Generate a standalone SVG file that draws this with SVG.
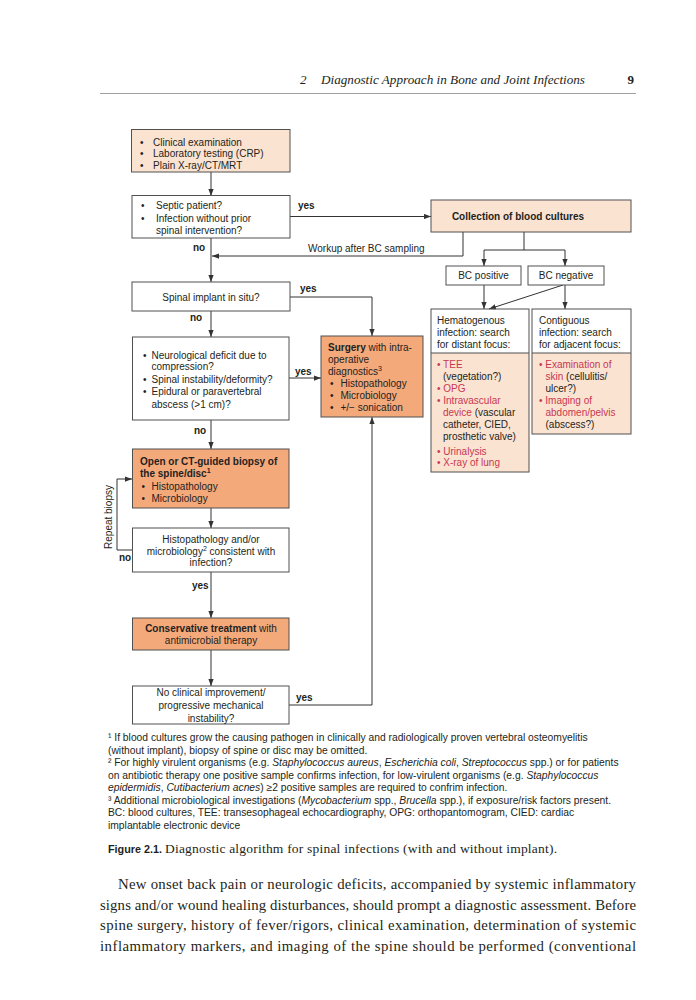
<svg xmlns="http://www.w3.org/2000/svg" width="696" height="1000" viewBox="0 0 696 1000">
<defs>
<style>
.box{stroke:#505050;stroke-width:1}
.lt{fill:#fbe3d2}
.dk{fill:#f4a97b}
.wh{fill:#ffffff}
.t{font-family:"Liberation Sans",Arial,sans-serif;font-size:10px;fill:#231f20}
.b{font-weight:bold}
.r{fill:#c8374f}
.c{text-anchor:middle}
.ln{stroke:#333;stroke-width:1;fill:none}
.fn{font-family:"Liberation Sans",Arial,sans-serif;font-size:10.3px;fill:#231f20}
.i{font-style:italic}
.serif{font-family:"Liberation Serif","Times New Roman",serif;fill:#231f20}
</style>
<marker id="ah" viewBox="0 0 8 6" refX="8" refY="3" markerWidth="7" markerHeight="5.5" markerUnits="userSpaceOnUse" orient="auto">
<path d="M0,0 L8,3 L0,6 z" fill="#333"/>
</marker>
</defs>
<rect width="696" height="1000" fill="#ffffff"/>

<!-- running header -->
<g id="header">
<text class="serif i" x="300" y="84" font-size="13">2</text>
<text class="serif i" x="321" y="84" font-size="13" textLength="264" lengthAdjust="spacingAndGlyphs">Diagnostic Approach in Bone and Joint Infections</text>
<text class="serif b" x="634" y="84" font-size="13" text-anchor="end">9</text>
<line x1="100" y1="93.5" x2="636" y2="93.5" stroke="#888" stroke-width="0.8"/>
</g>

<!-- connectors -->
<g id="connectors">
<line class="ln" x1="211" y1="172" x2="211" y2="196" marker-end="url(#ah)"/>
<line class="ln" x1="290" y1="216.5" x2="431" y2="216.5" marker-end="url(#ah)"/>
<polyline class="ln" points="463,232 463,256 212,256" marker-end="url(#ah)"/>
<line class="ln" x1="211" y1="238" x2="211" y2="282" marker-end="url(#ah)"/>
<polyline class="ln" points="524,232 524,250"/>
<line class="ln" x1="484" y1="250" x2="565" y2="250"/>
<line class="ln" x1="484" y1="250" x2="484" y2="266" marker-end="url(#ah)"/>
<line class="ln" x1="565" y1="250" x2="565" y2="266" marker-end="url(#ah)"/>
<line class="ln" x1="484" y1="285" x2="484" y2="309" marker-end="url(#ah)"/>
<line class="ln" x1="565" y1="285" x2="565" y2="309" marker-end="url(#ah)"/>
<line class="ln" x1="563" y1="285" x2="489" y2="309" marker-end="url(#ah)"/>
<polyline class="ln" points="290,297 372,297 372,336" marker-end="url(#ah)"/>
<line class="ln" x1="211" y1="311" x2="211" y2="337" marker-end="url(#ah)"/>
<line class="ln" x1="289" y1="378" x2="321" y2="378" marker-end="url(#ah)"/>
<line class="ln" x1="211" y1="420" x2="211" y2="449" marker-end="url(#ah)"/>
<line class="ln" x1="211" y1="508" x2="211" y2="528" marker-end="url(#ah)"/>
<polyline class="ln" points="132,550 117,550 117,479 132,479" marker-end="url(#ah)"/>
<line class="ln" x1="211" y1="572" x2="211" y2="618" marker-end="url(#ah)"/>
<line class="ln" x1="211" y1="650" x2="211" y2="686" marker-end="url(#ah)"/>
<polyline class="ln" points="289,705 372,705 372,417" marker-end="url(#ah)"/>
<text class="t b" x="298" y="209">yes</text>
<text class="t b" x="193" y="251">no</text>
<text class="t" x="308" y="252">Workup after BC sampling</text>
<text class="t b" x="300" y="291.5">yes</text>
<text class="t b" x="190" y="320.5">no</text>
<text class="t b" x="295" y="375">yes</text>
<text class="t b" x="194" y="433.5">no</text>
<text class="t b" x="119" y="561">no</text>
<text class="t c" transform="translate(111.5,517) rotate(-90)">Repeat biopsy</text>
<text class="t b" x="192" y="588.5">yes</text>
<text class="t b" x="296" y="700.5">yes</text>
</g>

<g id="initial">
<rect class="box lt" x="131.5" y="129.5" width="158.5" height="42.5"/>
<text class="t" x="140" y="145.5">•</text><text class="t" x="153" y="145.5">Clinical examination</text>
<text class="t" x="140" y="157">•</text><text class="t" x="153" y="157">Laboratory testing (CRP)</text>
<text class="t" x="140" y="168.5">•</text><text class="t" x="153" y="168.5">Plain X-ray/CT/MRT</text>
</g>

<g id="septic">
<rect class="box wh" x="132" y="195.5" width="158" height="42.5"/>
<text class="t" x="141" y="208.5">•</text><text class="t" x="156" y="208.5">Septic patient?</text>
<text class="t" x="141" y="221.5">•</text><text class="t" x="156" y="221.5">Infection without prior</text>
<text class="t" x="156" y="233.5">spinal intervention?</text>
</g>

<g id="blood-cultures">
<rect class="box lt" x="431" y="200" width="200" height="32"/>
<text class="t b c" x="518" y="219.5">Collection of blood cultures</text>
</g>

<g id="bc-positive">
<rect class="box wh" x="446" y="266" width="75" height="19"/>
<text class="t c" x="483.5" y="279">BC positive</text>
</g>

<g id="bc-negative">
<rect class="box wh" x="528" y="266" width="76" height="19"/>
<text class="t c" x="566" y="279">BC negative</text>
</g>

<g id="hematogenous">
<rect class="lt" x="431" y="353" width="98" height="119"/>
<rect x="431" y="309" width="98" height="163" fill="none" class="box"/>
<line x1="431" y1="353" x2="529" y2="353" stroke="#505050" stroke-width="1"/>
<text class="t" x="437" y="323.5">Hematogenous</text>
<text class="t" x="437" y="335.5">infection: search</text>
<text class="t" x="437" y="347.5">for distant focus:</text>
<text class="t r" x="437" y="367.5">• TEE</text>
<text class="t" x="443" y="379.5">(vegetation?)</text>
<text class="t r" x="437" y="391.5">• OPG</text>
<text class="t r" x="437" y="404">• Intravascular</text>
<text class="t" x="443" y="416"><tspan class="r">device</tspan> (vascular</text>
<text class="t" x="443" y="428">catheter, CIED,</text>
<text class="t" x="443" y="440">prosthetic valve)</text>
<text class="t r" x="437" y="454.5">• Urinalysis</text>
<text class="t r" x="437" y="466">•  X-ray of lung</text>
</g>

<g id="contiguous">
<rect class="lt" x="532" y="353" width="99" height="81"/>
<rect x="532" y="309" width="99" height="125" fill="none" class="box"/>
<line x1="532" y1="353" x2="631" y2="353" stroke="#505050" stroke-width="1"/>
<text class="t" x="539" y="323.5">Contiguous</text>
<text class="t" x="539" y="335.5">infection: search</text>
<text class="t" x="539" y="347.5">for adjacent focus:</text>
<text class="t r" x="539" y="367.5">• Examination of</text>
<text class="t" x="545.5" y="379.5"><tspan class="r">skin</tspan> (cellulitis/</text>
<text class="t" x="545.5" y="391.5">ulcer?)</text>
<text class="t r" x="539" y="404">• Imaging of</text>
<text class="t r" x="545.5" y="416">abdomen/pelvis</text>
<text class="t" x="545.5" y="428">(abscess?)</text>
</g>

<g id="spinal-implant">
<rect class="box wh" x="132" y="282" width="158" height="29"/>
<text class="t c" x="211" y="300.5">Spinal implant in situ?</text>
</g>

<g id="neuro">
<rect class="box wh" x="132.5" y="337" width="156.5" height="83"/>
<text class="t" x="143" y="358.5">•</text><text class="t" x="151.5" y="358.5">Neurological deficit due to</text>
<text class="t" x="151.5" y="370">compression?</text>
<text class="t" x="143" y="382.5">•</text><text class="t" x="151.5" y="382.5">Spinal instability/deformity?</text>
<text class="t" x="143" y="395">•</text><text class="t" x="151.5" y="395">Epidural or paravertebral</text>
<text class="t" x="151.5" y="407.5">abscess (&gt;1 cm)?</text>
</g>

<g id="surgery">
<rect class="box dk" x="321" y="336" width="102" height="81"/>
<text class="t" x="328" y="350.5"><tspan class="b">Surgery</tspan> with intra-</text>
<text class="t" x="328" y="362.5">operative</text>
<text class="t" x="328" y="374.5">diagnostics<tspan font-size="7" dy="-4">3</tspan></text>
<text class="t" x="330" y="386.5">•</text><text class="t" x="340.5" y="386.5">Histopathology</text>
<text class="t" x="330" y="399">•</text><text class="t" x="340.5" y="399">Microbiology</text>
<text class="t" x="330" y="411">•</text><text class="t" x="340.5" y="411">+/− sonication</text>
</g>

<g id="biopsy">
<rect class="box dk" x="132.5" y="449" width="156.5" height="59"/>
<text class="t b" x="140" y="465">Open or CT-guided biopsy of</text>
<text class="t b" x="140" y="477">the spine/disc<tspan font-size="7" dy="-4">1</tspan></text>
<text class="t" x="141.5" y="489.5">•</text><text class="t" x="151.5" y="489.5">Histopathology</text>
<text class="t" x="141.5" y="501.5">•</text><text class="t" x="151.5" y="501.5">Microbiology</text>
</g>

<g id="histo-result">
<rect class="box wh" x="132.5" y="528" width="156.5" height="44"/>
<text class="t c" x="211" y="542.5">Histopathology and/or</text>
<text class="t c" x="211" y="554.5">microbiology<tspan font-size="7" dy="-4">2</tspan><tspan dy="4"> consistent with</tspan></text>
<text class="t c" x="211" y="566">infection?</text>
</g>

<g id="conservative">
<rect class="box dk" x="132.5" y="618" width="156.5" height="32"/>
<text class="t c" x="211" y="631.5"><tspan class="b">Conservative treatment</tspan> with</text>
<text class="t c" x="211" y="644">antimicrobial therapy</text>
</g>

<g id="no-improvement">
<rect class="box wh" x="132.5" y="686" width="156.5" height="38"/>
<text class="t c" x="211" y="696">No clinical improvement/</text>
<text class="t c" x="211" y="709">progressive mechanical</text>
<text class="t c" x="211" y="721.5">instability?</text>
</g>

<g id="footnotes">
<text class="fn" x="108" y="741">¹ If blood cultures grow the causing pathogen in clinically and radiologically proven vertebral osteomyelitis</text>
<text class="fn" x="108" y="753.5">(without implant), biopsy of spine or disc may be omitted.</text>
<text class="fn" x="108" y="766">² For highly virulent organisms (e.g. <tspan class="i">Staphylococcus aureus</tspan>, <tspan class="i">Escherichia coli</tspan>, <tspan class="i">Streptococcus</tspan> spp.) or for patients</text>
<text class="fn" x="108" y="778.5">on antibiotic therapy one positive sample confirms infection, for low-virulent organisms (e.g. <tspan class="i">Staphylococcus</tspan></text>
<text class="fn" x="108" y="791"><tspan class="i">epidermidis</tspan>, <tspan class="i">Cutibacterium acnes</tspan>) ≥2 positive samples are required to confrim infection.</text>
<text class="fn" x="108" y="803.5">³ Additional microbiological investigations (<tspan class="i">Mycobacterium</tspan> spp., <tspan class="i">Brucella</tspan> spp.), if exposure/risk factors present.</text>
<text class="fn" x="108" y="816">BC: blood cultures, TEE: transesophageal echocardiography, OPG: orthopantomogram, CIED: cardiac</text>
<text class="fn" x="108" y="828.5">implantable electronic device</text>
</g>

<g id="caption">
<text x="108" y="853" font-family="Liberation Sans,Arial,sans-serif" font-size="10.8" font-weight="bold" fill="#231f20">Figure 2.1.</text>
<text class="serif" x="165" y="853" font-size="13.5" textLength="392" lengthAdjust="spacing">Diagnostic algorithm for spinal infections (with and without implant).</text>
</g>

<g id="body-text">
<text class="serif" x="118" y="889" font-size="14.8" textLength="518" lengthAdjust="spacing">New onset back pain or neurologic deficits, accompanied by systemic inflammatory</text>
<text class="serif" x="100" y="909.5" font-size="14.8" textLength="536" lengthAdjust="spacing">signs and/or wound healing disturbances, should prompt a diagnostic assessment. Before</text>
<text class="serif" x="100" y="930" font-size="14.8" textLength="536" lengthAdjust="spacing">spine surgery, history of fever/rigors, clinical examination, determination of systemic</text>
<text class="serif" x="100" y="950.5" font-size="14.8" textLength="536" lengthAdjust="spacing">inflammatory markers, and imaging of the spine should be performed (conventional</text>
</g>
</svg>
